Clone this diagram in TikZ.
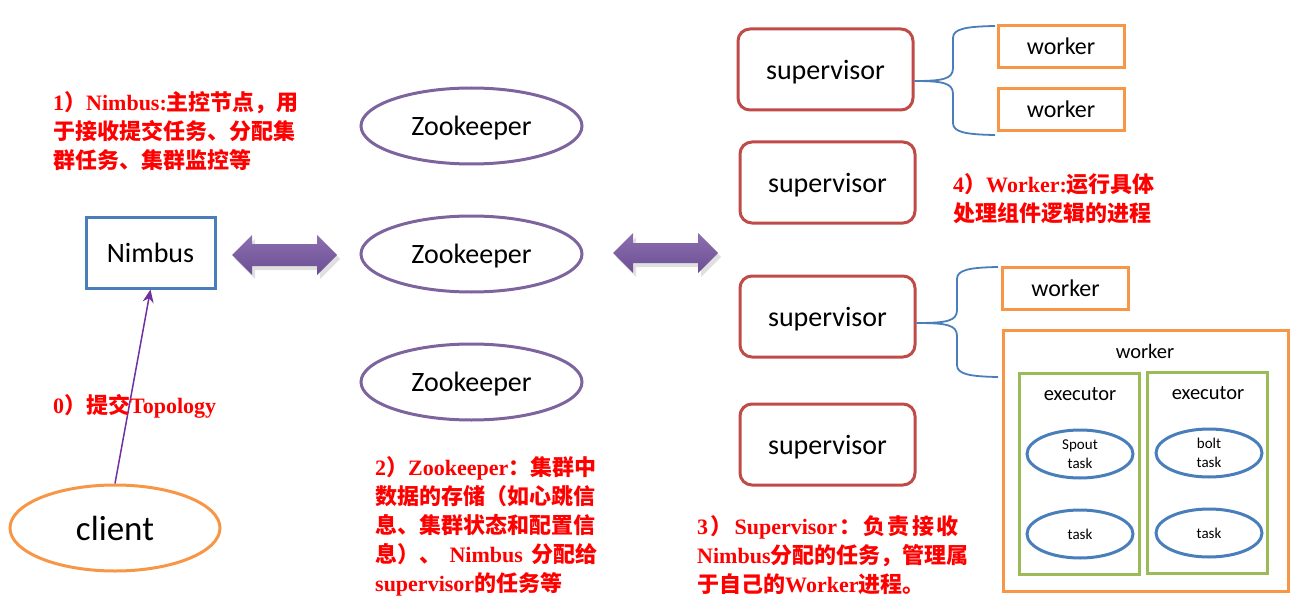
\documentclass[tikz,border=0pt]{standalone}
\usepackage{fontspec}
\setmainfont{Carlito}
\newfontfamily\cjkfam{Noto Sans CJK SC}
\newfontfamily\timesfam{Liberation Serif}
\newcommand\zhs[1]{{\cjkfam\bfseries #1}}
\newcommand\lts[1]{{\timesfam\bfseries #1}}
\definecolor{nblue}{HTML}{4A7EBB}
\definecolor{sred}{HTML}{BE4B48}
\definecolor{org}{HTML}{F79646}
\definecolor{zpur}{HTML}{7E649E}
\definecolor{grn}{HTML}{9BBB59}
\definecolor{arrpur}{HTML}{7030A0}
\definecolor{darrtop}{HTML}{8B6FB0}
\definecolor{darrbot}{HTML}{6C4F93}
\usetikzlibrary{shapes.geometric,arrows.meta}
\tikzset{
  every node/.style={inner sep=0pt},
  nimbusbox/.style={draw=nblue, line width=3pt, minimum width=129pt, minimum height=71pt, text depth=0pt, font=\fontsize{28}{30}\selectfont},
  clientell/.style={ellipse, draw=org, line width=3pt, minimum width=210pt, minimum height=86pt, font=\fontsize{35}{38}\selectfont},
  zkell/.style={ellipse, draw=zpur, line width=3pt, minimum width=221pt, minimum height=76pt, text depth=0pt, font=\fontsize{28}{30}\selectfont},
  supbox/.style={draw=sred, line width=3pt, rounded corners=12pt, minimum width=175pt, minimum height=81pt, text depth=0pt, font=\fontsize{28}{30}\selectfont},
  wbox/.style={draw=org, line width=3pt, minimum width=126pt, minimum height=42pt, font=\fontsize{24}{26}\selectfont},
  bigw/.style={draw=org, line width=3pt, minimum width=285pt, minimum height=261pt},
  exbox/.style={draw=grn, line width=3pt, minimum width=120pt, minimum height=201pt},
  taskell/.style={ellipse, draw=nblue, line width=3pt, minimum width=106pt, minimum height=48pt, align=center, font=\fontsize{15}{19.5}\selectfont},
  smalllbl/.style={font=\fontsize{20.5}{22}\selectfont},
  note/.style={text=red, align=left, anchor=north west, font=\fontsize{22}{29.2}\selectfont},
  brace/.style={draw=nblue, line width=1.8pt},
  dblarrow/.style={top color=darrtop, bottom color=darrbot, draw=none},
  dblshadow/.style={fill=black, opacity=0.12, draw=none},
}
\begin{document}
\begin{tikzpicture}[x=1pt,y=-1pt]
\useasboundingbox (0,0) rectangle (1300,604);

% left part
\node[nimbusbox] (nimbus) at (150.5,252.5) {Nimbus};
\node[clientell] (client) at (115,528) {client};
\draw[arrpur, line width=1.5pt, -{Stealth[length=13pt,width=11pt]}] (client.north) -- (nimbus.south);

% zookeepers
\node[zkell] (zk1) at (471.5,126) {Zookeeper};
\node[zkell] (zk2) at (471.5,254) {Zookeeper};
\node[zkell] (zk3) at (471.5,382) {Zookeeper};

% double arrows
\fill[dblshadow] (235,259) -- (255,239) -- (255,248) -- (320,248) -- (320,239) -- (340,259) -- (320,279) -- (320,270) -- (255,270) -- (255,279) -- cycle;
\path[dblarrow] (232,255) -- (252,235) -- (252,244) -- (317,244) -- (317,235) -- (337,255) -- (317,275) -- (317,266) -- (252,266) -- (252,275) -- cycle;
\fill[dblshadow] (616,257) -- (636,237) -- (636,247) -- (701,247) -- (701,237) -- (721,257) -- (701,277) -- (701,267) -- (636,267) -- (636,277) -- cycle;
\path[dblarrow] (613,253) -- (633,233) -- (633,243) -- (698,243) -- (698,233) -- (718,253) -- (698,273) -- (698,263) -- (633,263) -- (633,273) -- cycle;

% supervisors
\node[supbox] (sup1) at (825.5,69.5) {supervisor};
\node[supbox] (sup2) at (827.5,182.5) {supervisor};
\node[supbox] (sup3) at (827.5,316.5) {supervisor};
\node[supbox] (sup4) at (827.5,444.5) {supervisor};

% workers
\node[wbox] (w1) at (1061,46.5) {worker};
\node[wbox] (w2) at (1061,109.5) {worker};
\node[wbox] (w3) at (1065.5,288.5) {worker};

% braces
\coordinate (b1top) at (995,26);
\coordinate (b1bot) at (995,135);
\draw[brace] (sup1.east |- 0,81) .. controls (943,81) and (953,79) .. (953,68) -- (953,38) .. controls (953,29) and (965,26.5) .. (b1top);
\draw[brace] (sup1.east |- 0,81) .. controls (943,81) and (953,83) .. (953,94) -- (953,123) .. controls (953,132) and (965,134.5) .. (b1bot);
\coordinate (b2top) at (998,267);
\coordinate (b2bot) at (998,377);
\draw[brace] (sup3.east |- 0,323) .. controls (947,323) and (957,321) .. (957,310) -- (957,279) .. controls (957,270) and (969,267.5) .. (b2top);
\draw[brace] (sup3.east |- 0,323) .. controls (947,323) and (957,325) .. (957,336) -- (957,365) .. controls (957,374) and (969,376.5) .. (b2bot);

% big worker
\node[bigw] (bigworker) at (1145.5,460.5) {};
\node[smalllbl] (bigwlbl) at (1145,351) {worker};
\node[exbox] (ex1) at (1079,473.5) {};
\node[exbox] (ex2) at (1207,472.5) {};
\node[smalllbl] (ex1lbl) at (1080,394) {executor};
\node[smalllbl] (ex2lbl) at (1208,393) {executor};
\node[taskell] (t1) at (1080,454) {Spout\\task};
\node[taskell] (t2) at (1080,534) {task};
\node[taskell] (t3) at (1209,453) {bolt\\task};
\node[taskell] (t4) at (1209,533) {task};

% annotations
\node[note] (n1) at (53,91) {\lts{1}\zhs{）}\lts{Nimbus:}\zhs{主控节点，用}\\
\zhs{于接收提交任务、分配集}\\
\zhs{群任务、集群监控等}};
\node[note] (n0) at (53,394) {\lts{0}\zhs{）提交}\lts{Topology}};
\node[note] (n2) at (375,456) {\lts{2}\zhs{）}\lts{Zookeeper}\zhs{：集群中}\\
\zhs{数据的存储（如心跳信}\\
\zhs{息、集群状态和配置信}\\
\hbox to 222pt{\zhs{息）、}\hfill\lts{Nimbus}\hfill\zhs{分}\hfil\zhs{配}\hfil\zhs{给}}\\
\lts{supervisor}\zhs{的任务等}};
\node[note] (n3) at (697,515) {\hbox to 261pt{\lts{3}\hfil\zhs{）}\hfil\lts{Supervisor}\hfil\zhs{：}\hfil\zhs{负}\hfil\zhs{责}\hfil\zhs{接}\hfil\zhs{收}}\\
\lts{Nimbus}\zhs{分配的任务，管理属}\\
\zhs{于自己的}\lts{Worker}\zhs{进程。}};
\node[note] (n4) at (953,173) {\lts{4}\zhs{）}\lts{Worker:}\zhs{运行具体}\\
\zhs{处理组件逻辑的进程}};
\end{tikzpicture}
\end{document}
